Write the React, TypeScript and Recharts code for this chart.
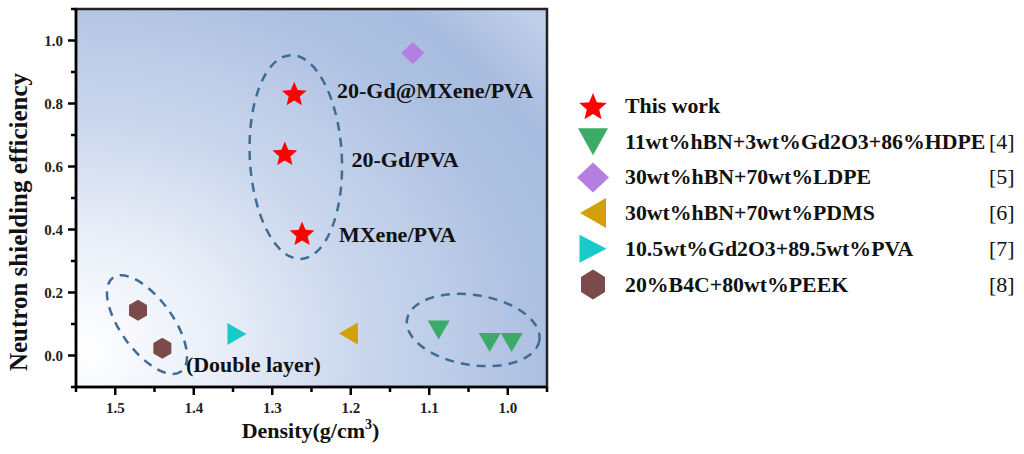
import React from "react";
import {
  ScatterChart,
  Scatter,
  XAxis,
  YAxis,
  CartesianGrid,
  ReferenceArea,
  ReferenceDot,
  Legend,
  Label,
} from "recharts";

// tick values (reversed density axis) and their labels
const xMajorTicks = [1.5, 1.4, 1.3, 1.2, 1.1, 1.0];
const xMajorLabels = ["1.5", "1.4", "1.3", "1.2", "1.1", "1.0"];
const xMinorTicks = [1.55, 1.45, 1.35, 1.25, 1.15, 1.05, 0.95];
const yMajorTicks = [0, 0.2, 0.4, 0.6, 0.8, 1.0];
const yMajorLabels = ["0.0", "0.2", "0.4", "0.6", "0.8", "1.0"];
const yMinorTicks = [-0.1, 0.1, 0.3, 0.5, 0.7, 0.9, 1.1];

// density (g/cm3) vs shielding efficiency
const thisWork = [
  { density: 1.272, eff: 0.832 },
  { density: 1.284, eff: 0.642 },
  { density: 1.262, eff: 0.388 },
];
const hdpe = [
  { density: 1.088, eff: 0.081 },
  { density: 1.023, eff: 0.041 },
  { density: 0.995, eff: 0.041 },
];
const ldpe = [{ density: 1.121, eff: 0.96 }];
const pdms = [{ density: 1.203, eff: 0.07 }];
const pvaRef = [{ density: 1.345, eff: 0.068 }];
const peek = [
  { density: 1.471, eff: 0.144 },
  { density: 1.44, eff: 0.023 },
];

const seriesNames = [
  "This work",
  "11wt%hBN+3wt%Gd2O3+86%HDPE",
  "30wt%hBN+70wt%LDPE",
  "30wt%hBN+70wt%PDMS",
  "10.5wt%Gd2O3+89.5wt%PVA",
  "20%B4C+80wt%PEEK",
];
const seriesRefs = ["", "[4]", "[5]", "[6]", "[7]", "[8]"];
const seriesData = [thisWork, hdpe, ldpe, pdms, pvaRef, peek];

// point annotations
const noteTexts = ["20-Gd@MXene/PVA", "20-Gd/PVA", "MXene/PVA", "(Double layer)"];
const noteX = [1.2175, 1.199, 1.215, 1.41];
const noteY = [0.8175, 0.598, 0.36, -0.0514];

// dashed group outlines (centre in data units)
const groupX = [1.27, 1.4596, 1.044];
const groupY = [0.63, 0.098, 0.081];

type Kind = "star" | "triDown" | "diamond" | "triLeft" | "triRight" | "hex";
const styles: { kind: Kind; color: string; w: number; h: number; lw: number; lh: number }[] = [
  { kind: "star", color: "#ff0000", w: 13, h: 13, lw: 14.5, lh: 14.5 },
  { kind: "triDown", color: "#3dab68", w: 22, h: 19, lw: 30, lh: 27 },
  { kind: "diamond", color: "#b47fe0", w: 23, h: 22, lw: 32, lh: 30 },
  { kind: "triLeft", color: "#d1a00a", w: 19, h: 22, lw: 26, lh: 30 },
  { kind: "triRight", color: "#19caca", w: 19, h: 22, lw: 27, lh: 28 },
  { kind: "hex", color: "#7b4a4a", w: 18, h: 21, lw: 24, lh: 30 },
];
const ellipseStyle = [
  { rx: 46, ry: 102, angle: -3 },
  { rx: 58, ry: 26, angle: 54 },
  { rx: 67, ry: 35, angle: 9 },
];

const FONT = "'Liberation Serif', 'Times New Roman', serif";

function marker(kind: Kind, cx: number, cy: number, w: number, h: number, color: string) {
  let pts: number[][] = [];
  if (kind === "star") {
    const R = w;
    const r = R * 0.45;
    for (let i = 0; i < 10; i++) {
      const a = -Math.PI / 2 + (i * Math.PI) / 5;
      const rad = i % 2 === 0 ? R : r;
      pts.push([cx + rad * Math.cos(a), cy + rad * Math.sin(a) + R * 0.1]);
    }
  } else if (kind === "triDown") {
    pts = [[cx - w / 2, cy - h / 2], [cx + w / 2, cy - h / 2], [cx, cy + h / 2]];
  } else if (kind === "diamond") {
    pts = [[cx, cy - h / 2], [cx + w / 2, cy], [cx, cy + h / 2], [cx - w / 2, cy]];
  } else if (kind === "triLeft") {
    pts = [[cx + w / 2, cy - h / 2], [cx + w / 2, cy + h / 2], [cx - w / 2, cy]];
  } else if (kind === "triRight") {
    pts = [[cx - w / 2, cy - h / 2], [cx - w / 2, cy + h / 2], [cx + w / 2, cy]];
  } else {
    pts = [
      [cx, cy - h / 2],
      [cx + w / 2, cy - h / 4],
      [cx + w / 2, cy + h / 4],
      [cx, cy + h / 2],
      [cx - w / 2, cy + h / 4],
      [cx - w / 2, cy - h / 4],
    ];
  }
  return <polygon points={pts.map((p) => p.join(",")).join(" ")} fill={color} stroke="none" />;
}

const XTick = (props: any) => {
  const { x, y, payload } = props;
  const axisY = y - 14;
  const idx = xMajorTicks.indexOf(payload.value);
  const major = idx >= 0;
  return (
    <g>
      <line x1={x} x2={x} y1={axisY} y2={axisY + (major ? 8 : 5)} stroke="#000" strokeWidth={2.5} />
      {major && (
        <text x={x} y={y + 12} textAnchor="middle" fontFamily={FONT} fontWeight="bold" fontSize={15} fill="#222">
          {xMajorLabels[idx]}
        </text>
      )}
    </g>
  );
};

const YTick = (props: any) => {
  const { x, y, payload } = props;
  const axisX = x + 13;
  const idx = yMajorTicks.indexOf(payload.value);
  const major = idx >= 0;
  return (
    <g>
      <line x1={axisX - (major ? 8 : 5)} x2={axisX} y1={y} y2={y} stroke="#000" strokeWidth={2.5} />
      {major && (
        <text x={x} y={y} dy="0.34em" textAnchor="end" fontFamily={FONT} fontWeight="bold" fontSize={15} fill="#222">
          {yMajorLabels[idx]}
        </text>
      )}
    </g>
  );
};

const LegendBox = () => (
  <svg width={464} height={220}>
    {seriesNames.map((name, i) => {
      const s = styles[i];
      const base = 25 + i * 35.7;
      return (
        <g key={name}>
          {marker(s.kind, 33, base - 7, s.lw, s.lh, s.color)}
          <text x={65} y={base} fontFamily={FONT} fontWeight="bold" fontSize={21.8} fill="#111">
            {name}
          </text>
          {seriesRefs[i] && (
            <text x={429} y={base} fontFamily={FONT} fontSize={22} fill="#111">
              {seriesRefs[i]}
            </text>
          )}
        </g>
      );
    })}
  </svg>
);

export default function App() {
  return (
    <div style={{ position: "absolute", left: 0, top: 0, width: 1024, height: 454, background: "#fff" }}>
      <ScatterChart width={1024} height={454} margin={{ top: 9, right: 477, bottom: 7, left: 0 }}>
        <defs>
          <radialGradient id="bg" cx="0" cy="0.9" r="1.3" fx="0" fy="0.9">
            <stop offset="0" stopColor="#ffffff" />
            <stop offset="0.1" stopColor="#f6f8fd" />
            <stop offset="0.27" stopColor="#e5ebf6" />
            <stop offset="0.48" stopColor="#c8d5ec" />
            <stop offset="0.62" stopColor="#bccbe7" />
            <stop offset="0.77" stopColor="#abbfe1" />
            <stop offset="0.88" stopColor="#a9bde0" />
            <stop offset="1" stopColor="#bfcde8" />
          </radialGradient>
        </defs>
        <CartesianGrid horizontal={false} vertical={false} fill="url(#bg)" />
        <XAxis
          type="number"
          dataKey="density"
          domain={[0.95, 1.55]}
          reversed
          ticks={[...xMajorTicks, ...xMinorTicks]}
          interval={0}
          height={60}
          tickSize={8}
          tickMargin={6}
          tickLine={false}
          tick={<XTick />}
          axisLine={{ stroke: "#000", strokeWidth: 2.5 }}
          allowDataOverflow
        >
          <Label
            content={(p: any) => {
              const vb = p.viewBox;
              return (
                <text x={vb.x + vb.width / 2 - 1} y={vb.y + 51} textAnchor="middle" fontFamily={FONT} fontWeight="bold" fontSize={22} fill="#111">
                  Density(g/cm
                  <tspan fontSize={14} dy={-9}>3</tspan>
                  <tspan dy={9}>)</tspan>
                </text>
              );
            }}
          />
        </XAxis>
        <YAxis
          type="number"
          dataKey="eff"
          domain={[-0.1, 1.1]}
          ticks={[...yMajorTicks, ...yMinorTicks]}
          interval={0}
          width={76}
          tickSize={8}
          tickMargin={5}
          tickLine={false}
          tick={<YTick />}
          axisLine={{ stroke: "#000", strokeWidth: 2.5 }}
          allowDataOverflow
        >
          <Label
            content={(p: any) => {
              const vb = p.viewBox;
              const cx = vb.x + 27;
              const cy = vb.y + vb.height / 2 + 24;
              return (
                <text x={cx} y={cy} transform={`rotate(-90 ${cx} ${cy})`} textAnchor="middle" fontFamily={FONT} fontWeight="bold" fontSize={25} fill="#111">
                  Neutron shielding efficiency
                </text>
              );
            }}
          />
        </YAxis>
        <ReferenceArea x1={0.95} x2={1.55} y1={-0.1} y2={1.1} fill="none" fillOpacity={0} stroke="#222" strokeWidth={2.5} />
        {groupX.map((gx, i) => (
          <ReferenceDot
            key={"g" + i}
            x={gx}
            y={groupY[i]}
            r={1}
            shape={(p: any) => (
              <ellipse
                cx={p.cx}
                cy={p.cy}
                rx={ellipseStyle[i].rx}
                ry={ellipseStyle[i].ry}
                transform={`rotate(${ellipseStyle[i].angle} ${p.cx} ${p.cy})`}
                fill="none"
                stroke="#3e6c97"
                strokeWidth={2.5}
                strokeDasharray="9 7"
              />
            )}
          />
        ))}
        {noteTexts.map((t, i) => (
          <ReferenceDot
            key={"n" + i}
            x={noteX[i]}
            y={noteY[i]}
            r={1}
            shape={(p: any) => (
              <text x={p.cx} y={p.cy} fontFamily={FONT} fontWeight="bold" fontSize={22} fill="#111">
                {t}
              </text>
            )}
          />
        ))}
        {seriesData.map((d, i) => (
          <Scatter
            key={seriesNames[i]}
            name={seriesNames[i]}
            data={d}
            isAnimationActive={false}
            shape={(p: any) => marker(styles[i].kind, p.cx, p.cy, styles[i].w, styles[i].h, styles[i].color)}
          />
        ))}
        <Legend
          layout="vertical"
          align="center"
          verticalAlign="middle"
          content={() => <LegendBox />}
          wrapperStyle={{ position: "absolute", left: 560, top: 88, width: 464, height: 220 }}
        />
      </ScatterChart>
    </div>
  );
}
